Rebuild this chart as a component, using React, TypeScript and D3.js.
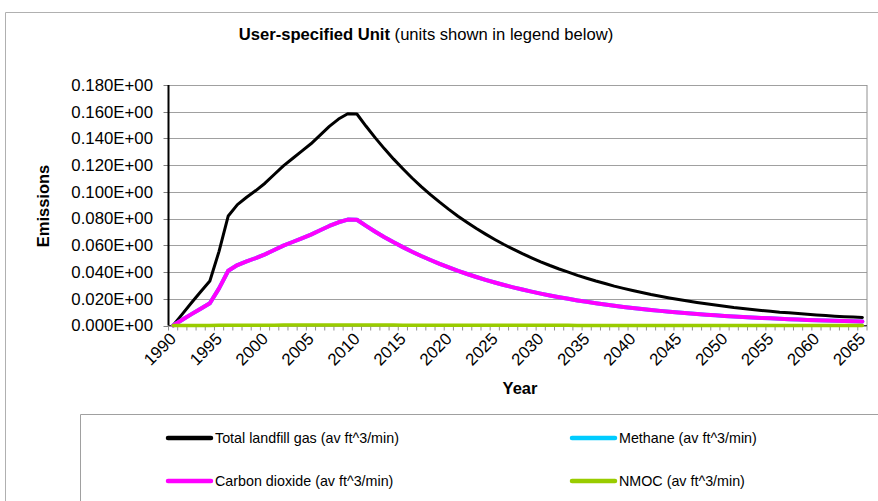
import * as d3 from 'd3'

const years = [
  1990, 1991, 1992, 1993, 1994, 1995, 1996, 1997, 1998, 1999,
  2000, 2001, 2002, 2003, 2004, 2005, 2006, 2007, 2008, 2009,
  2010, 2011, 2012, 2013, 2014, 2015, 2016, 2017, 2018, 2019,
  2020, 2021, 2022, 2023, 2024, 2025, 2026, 2027, 2028, 2029,
  2030, 2031, 2032, 2033, 2034, 2035, 2036, 2037, 2038, 2039,
  2040, 2041, 2042, 2043, 2044, 2045, 2046, 2047, 2048, 2049,
  2050, 2051, 2052, 2053, 2054, 2055, 2056, 2057, 2058, 2059,
  2060, 2061, 2062, 2063, 2064, 2065,
]

const totalGas = [
  0, 0.0085, 0.017, 0.0252, 0.0333, 0.0555, 0.082, 0.0905, 0.096, 0.101,
  0.1065, 0.113, 0.1195, 0.125, 0.1305, 0.136, 0.1425, 0.149, 0.1545, 0.1585,
  0.1583, 0.1491, 0.1404, 0.1322, 0.1245, 0.1173, 0.1104, 0.104, 0.098, 0.0923,
  0.0869, 0.0818, 0.0771, 0.0726, 0.0684, 0.0644, 0.0606, 0.0571, 0.0538, 0.0507,
  0.0477, 0.0449, 0.0423, 0.0399, 0.0375, 0.0354, 0.0333, 0.0314, 0.0295, 0.0278,
  0.0262, 0.0247, 0.0232, 0.0219, 0.0206, 0.0194, 0.0183, 0.0172, 0.0162, 0.0153,
  0.0144, 0.0135, 0.0128, 0.012, 0.0113, 0.0107, 0.01, 0.0095, 0.0089, 0.0084,
  0.0079, 0.0074, 0.007, 0.0066, 0.0063, 0.006,
]

const methane = [
  0, 0.00425, 0.0085, 0.0126, 0.01665, 0.02775, 0.041, 0.04525, 0.048, 0.0505,
  0.05325, 0.0565, 0.05975, 0.0625, 0.06525, 0.068, 0.07125, 0.0745, 0.07725, 0.07925,
  0.07915, 0.07455, 0.0702, 0.0661, 0.06225, 0.05865, 0.0552, 0.052, 0.049, 0.04615,
  0.04345, 0.0409, 0.03855, 0.0363, 0.0342, 0.0322, 0.0303, 0.02855, 0.0269, 0.02535,
  0.02385, 0.02245, 0.02115, 0.01995, 0.01875, 0.0177, 0.01665, 0.0157, 0.01475, 0.0139,
  0.0131, 0.01235, 0.0116, 0.01095, 0.0103, 0.0097, 0.00915, 0.0086, 0.0081, 0.00765,
  0.0072, 0.00675, 0.0064, 0.006, 0.00565, 0.00535, 0.005, 0.00475, 0.00445, 0.0042,
  0.00395, 0.0037, 0.0035, 0.0033, 0.0032, 0.003,
]

const carbonDioxide = [
  0, 0.00425, 0.0085, 0.0126, 0.01665, 0.02775, 0.041, 0.04525, 0.048, 0.0505,
  0.05325, 0.0565, 0.05975, 0.0625, 0.06525, 0.068, 0.07125, 0.0745, 0.07725, 0.07925,
  0.07915, 0.07455, 0.0702, 0.0661, 0.06225, 0.05865, 0.0552, 0.052, 0.049, 0.04615,
  0.04345, 0.0409, 0.03855, 0.0363, 0.0342, 0.0322, 0.0303, 0.02855, 0.0269, 0.02535,
  0.02385, 0.02245, 0.02115, 0.01995, 0.01875, 0.0177, 0.01665, 0.0157, 0.01475, 0.0139,
  0.0131, 0.01235, 0.0116, 0.01095, 0.0103, 0.0097, 0.00915, 0.0086, 0.0081, 0.00765,
  0.0072, 0.00675, 0.0064, 0.006, 0.00565, 0.00535, 0.005, 0.00475, 0.00445, 0.0042,
  0.00395, 0.0037, 0.0035, 0.0033, 0.0032, 0.003,
]

const nmoc = [
  0, 0.00002, 0.00004, 0.00006, 0.00008, 0.00013, 0.0002, 0.00022, 0.00023, 0.00024,
  0.00026, 0.00027, 0.00029, 0.0003, 0.00031, 0.00033, 0.00034, 0.00036, 0.00037, 0.00038,
  0.00038, 0.00036, 0.00034, 0.00032, 0.0003, 0.00028, 0.00026, 0.00025, 0.00024, 0.00022,
  0.00021, 0.0002, 0.00019, 0.00017, 0.00016, 0.00015, 0.00015, 0.00014, 0.00013, 0.00012,
  0.00011, 0.00011, 0.0001, 0.0001, 0.00009, 0.00008, 0.00008, 0.00008, 0.00007, 0.00007,
  0.00006, 0.00006, 0.00006, 0.00005, 0.00005, 0.00005, 0.00004, 0.00004, 0.00004, 0.00004,
  0.00003, 0.00003, 0.00003, 0.00003, 0.00003, 0.00003, 0.00002, 0.00002, 0.00002, 0.00002,
  0.00002, 0.00002, 0.00002, 0.00002, 0.00002, 0.00001,
]

const yTicks = [0, 0.02, 0.04, 0.06, 0.08, 0.1, 0.12, 0.14, 0.16, 0.18]
const xLabels = [
  1990, 1995, 2000, 2005, 2010, 2015, 2020, 2025,
  2030, 2035, 2040, 2045, 2050, 2055, 2060, 2065,
]

const series = [
  { name: 'Total landfill gas (av ft^3/min)', values: totalGas, color: '#000000', width: 3 },
  { name: 'Methane (av ft^3/min)', values: methane, color: '#00CCFF', width: 4 },
  { name: 'Carbon dioxide (av ft^3/min)', values: carbonDioxide, color: '#FF00FF', width: 4 },
  { name: 'NMOC (av ft^3/min)', values: nmoc, color: '#99CC00', width: 3.5 },
]

const legendPos = [
  { x: 168, y: 438 },
  { x: 572, y: 438 },
  { x: 168, y: 481 },
  { x: 572, y: 481 },
]

const W = 878
const H = 501
const plot = { left: 168.5, right: 867, top: 85, bottom: 325.5 }
const font = '"Liberation Sans", Arial, sans-serif'
const tickSize = 16.8

export default function App() {
  const x = d3.scalePoint<number>()
    .domain(years)
    .range([plot.left, plot.right])
    .padding(0.5)
  const y = d3.scaleLinear().domain([0, 0.18]).range([plot.bottom, plot.top])
  const step = x.step()

  const line = d3.line<number>()
    .x((_, i) => x(years[i]) as number)
    .y(d => y(d))

  const fmt = (v: number) => v.toFixed(3) + 'E+00'

  // tick marks sit on category boundaries
  const bounds = years.map(yr => (x(yr) as number) - step / 2).concat([(x(years[years.length - 1]) as number) + step / 2])

  return (
    <div style={{ position: 'absolute', left: 0, top: 0 }}>
      <svg width={W} height={H} style={{ display: 'block', fontFamily: font }}>
        <rect x={0} y={0} width={W} height={H} fill="#ffffff" />
        {/* outer chart frame */}
        <line x1={5.5} y1={12.5} x2={W} y2={12.5} stroke="#b0b0b0" />
        <line x1={5.5} y1={12.5} x2={5.5} y2={H} stroke="#b0b0b0" />

        <text x={426} y={40} textAnchor="middle" fontSize={16.6} fill="#000">
          <tspan fontWeight="bold">User-specified Unit</tspan>
          <tspan> (units shown in legend below)</tspan>
        </text>

        {/* gridlines */}
        {yTicks.map(t => (
          <line key={'g' + t} x1={plot.left} x2={plot.right} y1={Math.round(y(t)) + 0.5} y2={Math.round(y(t)) + 0.5} stroke="#a0a0a0" />
        ))}
        <line x1={plot.right} x2={plot.right} y1={plot.top} y2={plot.bottom} stroke="#909090" />

        {/* y ticks + labels */}
        {yTicks.map(t => (
          <g key={'y' + t}>
            <line x1={plot.left - 5} x2={plot.left} y1={Math.round(y(t)) + 0.5} y2={Math.round(y(t)) + 0.5} stroke="#808080" />
            <text x={153} y={y(t)} dy="0.35em" textAnchor="end" fontSize={tickSize} fill="#000">{fmt(t)}</text>
          </g>
        ))}

        {/* x ticks */}
        {bounds.map((b, i) => (
          <line key={'xt' + i} x1={b} x2={b} y1={plot.bottom} y2={plot.bottom + 5} stroke="#909090" />
        ))}
        <line x1={plot.left} x2={plot.right} y1={plot.bottom} y2={plot.bottom} stroke="#404040" />
        <line x1={plot.left} x2={plot.left} y1={plot.top} y2={plot.bottom} stroke="#000" strokeWidth={2} />

        {xLabels.map(yr => (
          <text key={'xl' + yr} transform={`translate(${(x(yr) as number) + 4},${340}) rotate(-45)`} textAnchor="end" fontSize={tickSize} fill="#000">
            {yr}
          </text>
        ))}

        <text transform="translate(49,206) rotate(-90)" textAnchor="middle" fontSize={16.5} fontWeight="bold" fill="#000">Emissions</text>
        <text x={520} y={394} textAnchor="middle" fontSize={16.5} fontWeight="bold" fill="#000">Year</text>

        {/* series */}
        {series.map(s => (
          <path key={s.name} d={line(s.values) as string} fill="none" stroke={s.color} strokeWidth={s.width} strokeLinejoin="round" strokeLinecap="round" />
        ))}

        {/* legend */}
        <line x1={80.5} y1={414.5} x2={W} y2={414.5} stroke="#a0a0a0" />
        <line x1={80.5} y1={414.5} x2={80.5} y2={H} stroke="#a0a0a0" />
        {series.map((s, i) => (
          <g key={'lg' + s.name}>
            <line x1={legendPos[i].x} x2={legendPos[i].x + 43} y1={legendPos[i].y} y2={legendPos[i].y} stroke={s.color} strokeWidth={4.5} strokeLinecap="round" />
            <text x={legendPos[i].x + 47} y={legendPos[i].y} dy="0.35em" fontSize={14.3} fill="#000">{s.name}</text>
          </g>
        ))}
      </svg>
    </div>
  )
}
